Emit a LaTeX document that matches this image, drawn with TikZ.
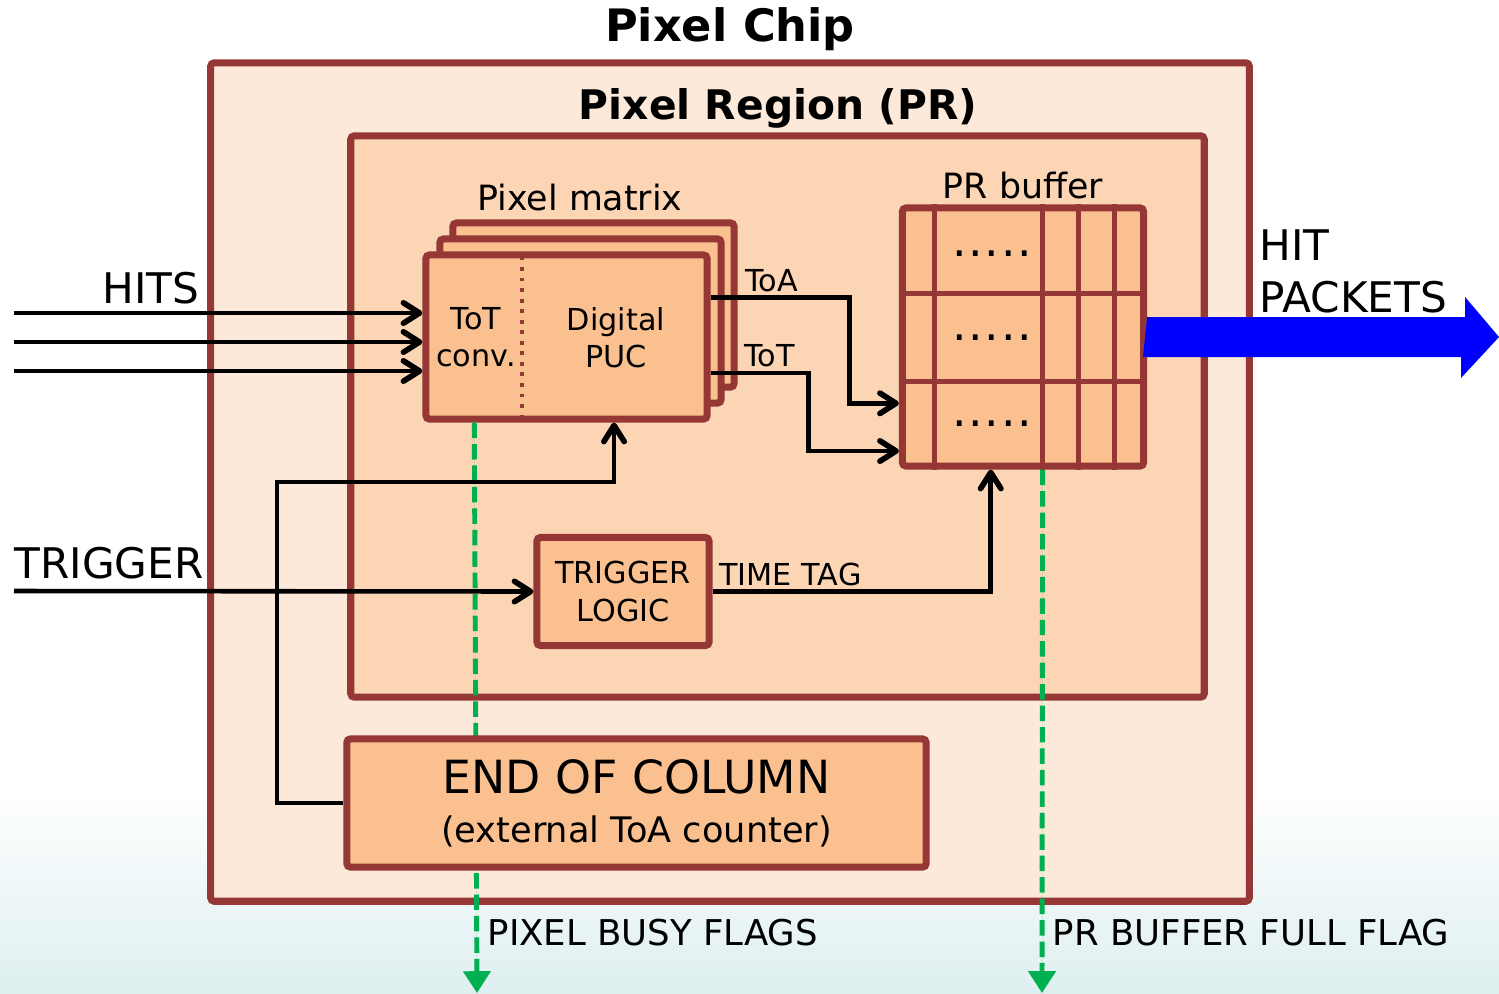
\documentclass[tikz,border=0pt]{standalone}
\usepackage{fontspec}
\setmainfont{DejaVu Sans}
\usepackage{xcolor}
\usepackage{tikz}
\usetikzlibrary{positioning, calc, arrows.meta}
\definecolor{ChipColor}{RGB}{253,233,217}
\definecolor{RegionColor}{RGB}{252,213,181}
\definecolor{BlockColor}{RGB}{250,192,144}
\definecolor{EdgeColor}{RGB}{149,55,53}
\definecolor{FlagColor}{RGB}{0,176,80}
\definecolor{PacketColor}{RGB}{0,0,255}
\definecolor{BgColor}{RGB}{222,239,240}
\tikzset{
    unitbox/.style={
        shape=rectangle,
        draw=EdgeColor,
        line width=2pt,
        fill=#1,
        rounded corners=1pt,
        inner sep=0pt
    },
    blocktext/.style={align=center, font=\fontsize{8.6}{10.6}\selectfont},
    sig/.style={-{Straight Barb[length=4.6pt, width=5.8pt, line width=1.6pt, round]}, line width=1.3pt, draw=black},
    flag/.style={-{Triangle[length=6.2pt, width=7.6pt]}, dash pattern=on 4.4pt off 1.7pt, line width=1.4pt, draw=FlagColor, fill=FlagColor},
    cell/.style={draw=EdgeColor, line width=1.4pt},
    lbl/.style={font=\fontsize{8.6}{10}\selectfont, inner sep=1pt},
    midlbl/.style={font=\fontsize{9.9}{12}\selectfont, inner sep=0pt},
    biglbl/.style={font=\fontsize{12}{14.8}\selectfont, inner sep=0pt},
    flaglbl/.style={font=\fontsize{10.1}{12}\selectfont, inner sep=2.4pt}
}

\begin{document}
\begin{tikzpicture}[x=0.01cm, y=-0.01cm]

% Canvas
\useasboundingbox (0,0) rectangle (1499,993);
\fill[white] (0,0) rectangle (1499,993);
\shade[top color=white, bottom color=BgColor] (0,790) rectangle (1499,993);

% Chip and pixel region
\node[unitbox=ChipColor, minimum width=10.38cm, minimum height=8.38cm] (chip) at (730,482) {};
\node[font=\fontsize{12.7}{15}\selectfont\bfseries] (chiplbl) at (730,29) {Pixel Chip};

\node[unitbox=RegionColor, minimum width=8.53cm, minimum height=5.61cm] (pr) at (777.5,416.5) {};
\node[font=\fontsize{11.6}{14}\selectfont\bfseries] (prlbl) at (778,108) {Pixel Region (PR)};

% Pixel matrix
\foreach \dx/\dy/\nm in {27/32/pixback, 14/16/pixmid, 0/0/pixfront}
    \node[unitbox=BlockColor, minimum width=2.81cm, minimum height=1.64cm] (\nm) at (566.5+\dx,337-\dy) {};
\draw[EdgeColor, line width=1.1pt, dash pattern=on 1.1pt off 1.9pt]
    ($(pixfront.north west)!0.345!(pixfront.north east)+(0,5)$) -- ($(pixfront.south west)!0.345!(pixfront.south east)$);
\node[blocktext] (totconv) at (476,337) {ToT\\conv.};
\node[blocktext] (puc) at (616,338) {Digital\\PUC};
\node[midlbl] (pixlbl) at (580,198) {Pixel matrix};

% PR buffer
\node[unitbox=BlockColor, minimum width=2.41cm, minimum height=2.58cm] (buf) at (1023,337) {};
\foreach \f in {0.337, 0.667}
    \draw[cell] ($(buf.north west)!\f!(buf.south west)$) -- ($(buf.north east)!\f!(buf.south east)$);
\foreach \f in {0.142, 0.579, 0.725, 0.867}
    \draw[cell] ($(buf.north west)!\f!(buf.north east)$) -- ($(buf.south west)!\f!(buf.south east)$);
\foreach \y [count=\i] in {256, 340, 426}
    \node[font=\fontsize{13}{14}\selectfont\addfontfeature{LetterSpace=4}, inner sep=0pt, anchor=base] (dots\i) at (992,\y) {.....};
\node[midlbl] (buflbl) at (1023,186) {PR buffer};

% Trigger logic
\node[unitbox=BlockColor, minimum width=1.72cm, minimum height=1.08cm, blocktext] (trig) at (623,591.5) {TRIGGER\\LOGIC};

% Flags (behind end of column)
\coordinate (busyS) at ($(pixfront.south west)!0.18!(pixfront.south east)$);
\coordinate (busyOut) at (477,993);
\draw[flag] (busyS) -- node[flaglbl, right, pos=0.894] (busylbl) {PIXEL BUSY FLAGS} (busyOut);
\coordinate (fullS) at ($(buf.south west)!0.579!(buf.south east)$);
\coordinate (fullOut) at (1042,993);
\draw[flag] (fullS) -- node[flaglbl, right, pos=0.884] (fulllbl) {PR BUFFER FULL FLAG} (fullOut);

% End of column
\node[unitbox=BlockColor, minimum width=5.79cm, minimum height=1.28cm, align=center] (eoc) at (636.5,803)
    {\fontsize{13}{15}\selectfont END OF COLUMN\\[2pt]\fontsize{10}{12.5}\selectfont (external ToA counter)};

% Hits
\foreach \y [count=\i] in {313, 342, 371} {
    \coordinate (hit\i) at (14,\y);
    \draw[sig] (hit\i) -- (hit\i -| pixfront.west);
}
\node[biglbl, anchor=base east] (hitslbl) at (200,303) {HITS};

% ToA / ToT to buffer
\coordinate (toaS) at ($(pixfront.north east)!0.27!(pixfront.south east)$);
\coordinate (totS) at ($(pixfront.north east)!0.71!(pixfront.south east)$);
\coordinate (toaE) at ($(buf.north west)!0.75!(buf.south west)$);
\coordinate (totE) at ($(buf.north west)!0.93!(buf.south west)$);
\draw[sig] (toaS) -- node[lbl, above, pos=0.44] (toalbl) {ToA} ++(139,0) |- (toaE);
\draw[sig] (totS) -- node[lbl, above, pos=0.6] (totlbl) {ToT} ++(98,0) |- (totE);

% Feedback from end of column
\coordinate (fbk) at (277,482);
\coordinate (pucIn) at ($(pixfront.south west)!0.665!(pixfront.south east)$);
\draw[sig] (eoc.west) -| (fbk) -| (pucIn);

% Trigger
\coordinate (trigIn) at (14,591);
\draw[sig] (trigIn) -- (trig.west);
\node[biglbl, anchor=base west] (triglbl) at (14,578) {TRIGGER};
\coordinate (tagIn) at ($(buf.south west)!0.37!(buf.south east)$);
\draw[sig] (trig.east) -| node[lbl, above, pos=0.14] (taglbl) {TIME TAG} (tagIn);

% Hit packets
\coordinate (pktOut) at (1499,337);
\fill[PacketColor] (buf.east) ++(0,-20) -- ++(318,0) -- ++(0,-20) -- (pktOut) -- ++(-38,41) -- ++(0,-21) -- ++(-318,0) -- cycle;
\node[biglbl, align=left, anchor=south west] (pktlbl) at (1259,314) {HIT\\PACKETS};

\end{tikzpicture}
\end{document}
